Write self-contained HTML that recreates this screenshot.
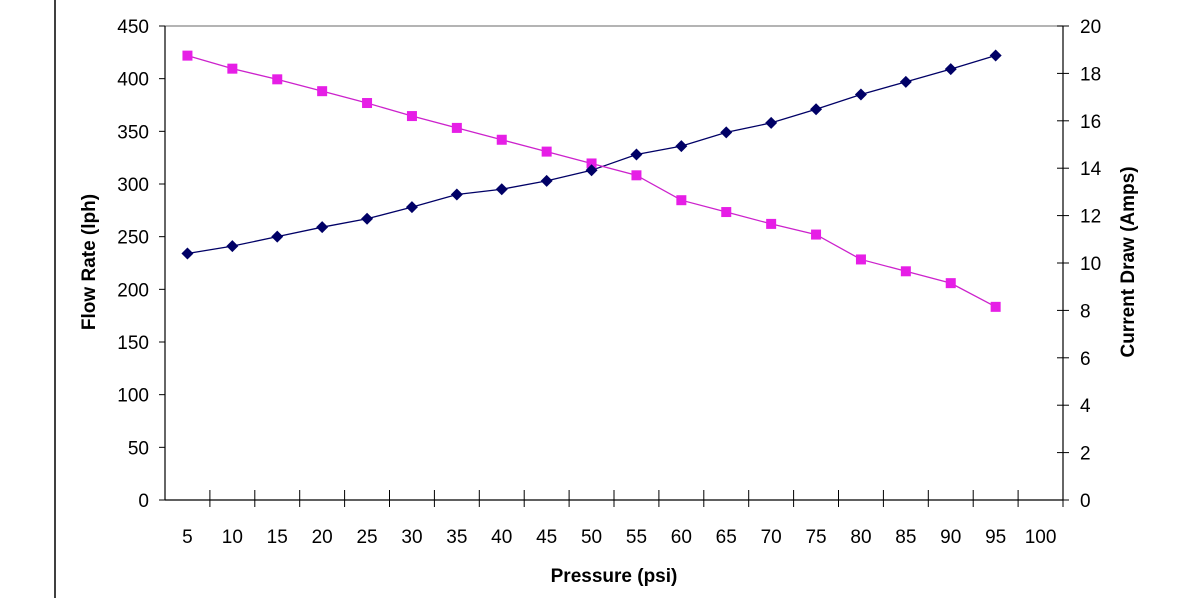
<!DOCTYPE html>
<html><head><meta charset="utf-8"><style>
body{margin:0;background:#fff;}
svg{display:block;font-family:"Liberation Sans",Arial,sans-serif;}
</style></head><body>
<svg id="chart" width="1196" height="598">
<line x1="55" y1="0" x2="55" y2="598" stroke="#000" stroke-width="1.5"/>
<g id="g"></g>
</svg>
<script>
const categories=[5,10,15,20,25,30,35,40,45,50,55,60,65,70,75,80,85,90,95,100];
const flowRate=[234,241,250,259,267,278,290,295,303,313,328,336,349,358,371,385,397,409,422];
const currentDraw=[18.75,18.2,17.75,17.25,16.75,16.2,15.7,15.2,14.7,14.2,13.7,12.65,12.15,11.65,11.2,10.15,9.65,9.15,8.15];
const leftTicks=[0,50,100,150,200,250,300,350,400,450];
const rightTicks=[0,2,4,6,8,10,12,14,16,18,20];
const L=165,R=1063,T=26,B=500;
const cw=(R-L)/categories.length;
const xc=i=>L+(i+0.5)*cw;
const yl=v=>B-v/450*(B-T);
const yr=v=>B-v/20*(B-T);
const g=document.getElementById('g');
const NS='http://www.w3.org/2000/svg';
function el(t,a,txt){const e=document.createElementNS(NS,t);for(const k in a)e.setAttribute(k,a[k]);if(txt!=null)e.textContent=txt;g.appendChild(e);return e;}
let e;
e=el('line',{x1:L,y1:T,x2:R,y2:T,stroke:'#888','stroke-width':1.2});


e=el('line',{x1:L,y1:T,x2:L,y2:B,stroke:'#000','stroke-width':1.2});


e=el('line',{x1:R,y1:T,x2:R,y2:B,stroke:'#000','stroke-width':1.2});


e=el('line',{x1:L,y1:B,x2:R,y2:B,stroke:'#000','stroke-width':1.2});


leftTicks.forEach(v=>{const y=yl(v);
 el('line',{x1:L-6,y1:y,x2:L,y2:y,stroke:'#000'});
 e=el('text',{x:L-16,y:y+7,'text-anchor':'end','font-size':19},v);
 
 });
rightTicks.forEach(v=>{const y=yr(v);
 el('line',{x1:R-6,y1:y,x2:R+6,y2:y,stroke:'#000'});
 e=el('text',{x:R+17,y:y+7,'text-anchor':'start','font-size':19},v);
 
 });
categories.forEach((c,i)=>{const x=L+(i+1)*cw;
 el('line',{x1:x,y1:B-10,x2:x,y2:B+7,stroke:'#000'});
 e=el('text',{x:xc(i),y:B+43,'text-anchor':'middle','font-size':19},c);
 
 });
e=el('polyline',{points:flowRate.map((v,i)=>xc(i)+','+yl(v)).join(' '),fill:'none',stroke:'#000066','stroke-width':1.3});


e=el('polyline',{points:currentDraw.map((v,i)=>xc(i)+','+yr(v)).join(' '),fill:'none',stroke:'#cc22cc','stroke-width':1.3});


currentDraw.forEach((v,i)=>{const x=xc(i),y=yr(v);
 e=el('rect',{x:x-5,y:y-5,width:10,height:10,fill:'#e61ee6'});
 
 });
flowRate.forEach((v,i)=>{const x=xc(i),y=yl(v);
 e=el('polygon',{points:`${x},${y-6} ${x+6},${y} ${x},${y+6} ${x-6},${y}`,fill:'#000066'});
 
 });
e=el('text',{x:614,y:582,'text-anchor':'middle','font-size':19,'font-weight':'bold'},'Pressure (psi)');


e=el('text',{x:0,y:0,'text-anchor':'middle','font-size':19,'font-weight':'bold',transform:'translate(95,262) rotate(-90)'},'Flow Rate (lph)');


e=el('text',{x:0,y:0,'text-anchor':'middle','font-size':19,'font-weight':'bold',transform:'translate(1134,262) rotate(-90)'},'Current Draw (Amps)');


</script>
</body></html>
